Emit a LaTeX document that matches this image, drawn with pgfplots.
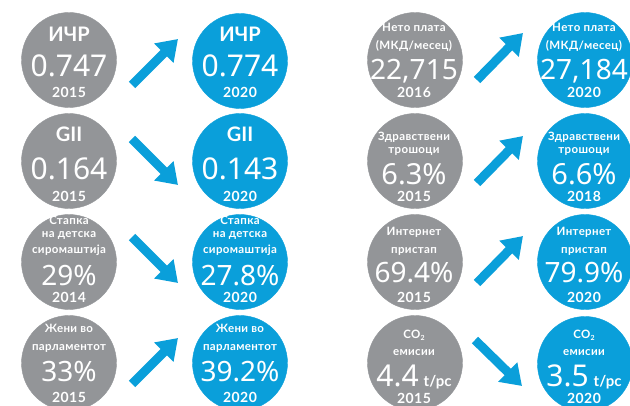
\documentclass[border=0pt]{standalone}
\usepackage{fontspec}
\setmainfont{Noto Sans}
\newfontfamily\lblf{Lato}
\usepackage{pgfplots}
\pgfplotsset{compat=1.18}
\usetikzlibrary{arrows.meta}
\definecolor{cgray}{HTML}{939598}
\definecolor{cblue}{HTML}{0A9FDA}
\tikzset{lbl/.style={text=white,anchor=base,inner sep=0pt}}
\newcommand{\sm}{\lblf\bfseries\fontsize{11.5}{11.5}\selectfont\addfontfeatures{LetterSpace=3}}
\newcommand{\yr}{\lblf\bfseries\fontsize{14}{14}\selectfont\addfontfeatures{LetterSpace=3}}
\newcommand{\stapka}[3]{%
\node[lbl,font=\sm] at (axis cs:#1,225) {Стапка};
\node[lbl,font=\sm] at (axis cs:#1,237) {на детска};
\node[lbl,font=\sm] at (axis cs:#1,254) {сиромаштија};
\node[lbl,font=\fontsize{28}{28}\selectfont] at (axis cs:#1,285) {#2};
\node[lbl,font=\yr] at (axis cs:#1,302) {#3};}
\newcommand{\zeni}[3]{%
\node[lbl,font=\sm] at (axis cs:#1,332) {Жени во};
\node[lbl,font=\sm] at (axis cs:#1,350) {парламентот};
\node[lbl,font=\fontsize{28}{28}\selectfont] at (axis cs:#1,381) {#2};
\node[lbl,font=\yr] at (axis cs:#1,402) {#3};}
\newcommand{\neto}[3]{%
\node[lbl,font=\sm] at (axis cs:#1,32) {Нето плата};
\node[lbl,font=\sm] at (axis cs:#1,50) {(МКД/месец)};
\node[lbl,font=\fontsize{28}{28}\selectfont] at (axis cs:#1,80) {#2};
\node[lbl,font=\yr] at (axis cs:#1,98) {#3};}
\newcommand{\zdrav}[3]{%
\node[lbl,font=\sm] at (axis cs:#1,141) {Здравствени};
\node[lbl,font=\sm] at (axis cs:#1,154) {трошоци};
\node[lbl,font=\fontsize{29}{29}\selectfont] at (axis cs:#1,185) {#2};
\node[lbl,font=\yr] at (axis cs:#1,202) {#3};}
\newcommand{\inter}[3]{%
\node[lbl,font=\sm] at (axis cs:#1,236) {Интернет};
\node[lbl,font=\sm] at (axis cs:#1,254) {пристап};
\node[lbl,font=\fontsize{28}{28}\selectfont] at (axis cs:#1,283) {#2};
\node[lbl,font=\yr] at (axis cs:#1,302) {#3};}
\newcommand{\cotwo}[3]{%
\node[lbl,font=\sm] at (axis cs:#1,338) {CO\raisebox{-0.35ex}{\fontsize{7}{7}\selectfont 2}};
\node[lbl,font=\sm] at (axis cs:#1,355) {емисии};
\node[lbl,font=\fontsize{30}{30}\selectfont] at (axis cs:#1,386) {#2\,{\lblf\bfseries\fontsize{15}{15}\selectfont t/pc}};
\node[lbl,font=\yr] at (axis cs:#1,403) {#3};}
\newcommand{\idxblk}[7]{%
\node[lbl,font=\lblf\bfseries\fontsize{20}{20}\selectfont] at (axis cs:#1,#2) {#3};
\node[lbl,font=\fontsize{30}{30}\selectfont] at (axis cs:#1,#4) {#5};
\node[lbl,font=\yr] at (axis cs:#1,#6) {#7};}
\begin{document}
\begin{tikzpicture}
\begin{axis}[width=630pt,height=406pt,scale only axis,xmin=0,xmax=630,ymin=0,ymax=406,
  y dir=reverse,hide axis,clip=false,clip marker paths=true]
\addplot[cgray,only marks,mark=*,mark size=47.5pt,mark options={draw=none,fill=cgray}]
  coordinates {(69,60)(69,161)(69,262)(69,363)(415,60)(415,161)(415,262)(415,363)};
\addplot[cblue,only marks,mark=*,mark size=47.5pt,mark options={draw=none,fill=cblue}]
  coordinates {(240,61)(240,161)(240,262)(240,363)(585,60)(585,161)(585,262)(585,364)};
% arrows
\addplot[cblue,line width=9pt,-{Triangle[width=26pt,length=20pt]}] coordinates {(132,85)(178,39)};
\addplot[cblue,line width=9pt,-{Triangle[width=26pt,length=20pt]}] coordinates {(132,139)(178,185)};
\addplot[cblue,line width=9pt,-{Triangle[width=26pt,length=20pt]}] coordinates {(132,237)(178,283)};
\addplot[cblue,line width=9pt,-{Triangle[width=26pt,length=20pt]}] coordinates {(132,384)(178,338)};
\addplot[cblue,line width=9pt,-{Triangle[width=26pt,length=20pt]}] coordinates {(477,80)(523,33)};
\addplot[cblue,line width=9pt,-{Triangle[width=26pt,length=20pt]}] coordinates {(477,183)(523,136)};
\addplot[cblue,line width=9pt,-{Triangle[width=26pt,length=20pt]}] coordinates {(477,283)(523,236)};
\addplot[cblue,line width=9pt,-{Triangle[width=26pt,length=20pt]}] coordinates {(475,340)(522,386)};
\idxblk{69}{41.7}{ИЧР}{77}{0.747}{98}{2015}
\idxblk{240}{41.7}{ИЧР}{77}{0.774}{98}{2020}
\idxblk{69}{141.7}{GII}{180}{0.164}{202}{2015}
\idxblk{240}{141.7}{GII}{180}{0.143}{202}{2020}
\stapka{69}{29\%}{2014}
\stapka{240}{27.8\%}{2020}
\zeni{69}{33\%}{2015}
\zeni{240}{39.2\%}{2020}
\neto{414}{22,715}{2016}
\neto{584}{27,184}{2020}
\zdrav{414}{6.3\%}{2015}
\zdrav{584}{6.6\%}{2018}
\inter{414}{69.4\%}{2015}
\inter{584}{79.9\%}{2020}
\cotwo{414}{4.4}{2015}
\cotwo{584}{3.5}{2020}
\end{axis}
\pgfresetboundingbox
\path (current axis.south west) rectangle (current axis.north east);
\end{tikzpicture}
\end{document}
